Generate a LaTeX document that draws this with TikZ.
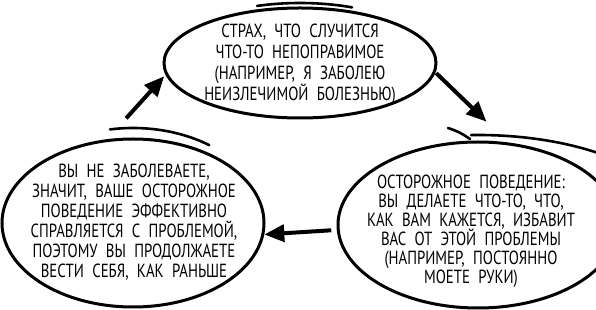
\documentclass[tikz,border=0pt]{standalone}
\usepackage{fontspec}
\newfontfamily\handfont[FakeStretch=0.78,WordSpace=2.1]{PT Sans}
\newcommand\handsize[1]{\fontsize{19}{#1}\selectfont\lineskiplimit=-20pt\relax}
\usetikzlibrary{shapes.geometric}
\usetikzlibrary{arrows.meta}

\tikzset{
  bubble/.style={ellipse, draw, line width=3pt, inner sep=0pt},
  bubbletext/.style={align=center, font=\handfont\handsize{#1}},
  bubbletext/.default=20,
  overshoot/.style={line width=2.6pt, line cap=round},
  cyclearrow/.style={line width=4pt, -{Triangle[length=20pt,width=17pt]}},
}

\begin{document}
\begin{tikzpicture}[x=1pt,y=1pt]
    \useasboundingbox (0,0) rectangle (596,310);
    \clip (0,0) rectangle (596,310);

    % Bubbles
    \node[bubble, minimum width=272pt, minimum height=110pt] (fear) at (300,247) {};
    \node[bubble, minimum width=262pt, minimum height=168pt] (relief) at (133,87) {};
    \node[bubble, minimum width=280pt, minimum height=166pt] (behave) at (478,85) {};

    % Hand-drawn overshoots
    \draw[overshoot] ([shift={(68:139pt and 60pt)}]fear.center) arc[start angle=68, end angle=108, x radius=139pt, y radius=60pt];
    \draw[overshoot] ([shift={(100:133pt and 95pt)}]relief.center) arc[start angle=100, end angle=55, x radius=133pt, y radius=95pt];
    \draw[overshoot] ([shift={(92:200pt and 90pt)}]behave.center) arc[start angle=92, end angle=30, x radius=200pt, y radius=90pt];
    \draw[overshoot] (448,182) to[bend left=8] (470,171);

    % Texts
    \node[bubbletext=21] (feartext) at (300,246) {СТРАХ, ЧТО СЛУЧИТСЯ\\ЧТО-ТО НЕПОПРАВИМОЕ\\(НАПРИМЕР, Я ЗАБОЛЕЮ\\НЕИЗЛЕЧИМОЙ БОЛЕЗНЬЮ)};
    \node[bubbletext=20] (relieftext) at (134,88) {ВЫ НЕ ЗАБОЛЕВАЕТЕ,\\ЗНАЧИТ, ВАШЕ ОСТОРОЖНОЕ\\ПОВЕДЕНИЕ ЭФФЕКТИВНО\\СПРАВЛЯЕТСЯ С ПРОБЛЕМОЙ,\\ПОЭТОМУ ВЫ ПРОДОЛЖАЕТЕ\\ВЕСТИ СЕБЯ, КАК РАНЬШЕ};
    \node[bubbletext=19] (behavetext) at (471,79) {ОСТОРОЖНОЕ ПОВЕДЕНИЕ:\\ВЫ ДЕЛАЕТЕ ЧТО-ТО, ЧТО,\\КАК ВАМ КАЖЕТСЯ, ИЗБАВИТ\\ВАС ОТ ЭТОЙ ПРОБЛЕМЫ\\(НАПРИМЕР, ПОСТОЯННО\\МОЕТЕ РУКИ)};

    % Cycle
    \draw[cyclearrow, shorten <=28pt, shorten >=2pt] (relief.107.2) -- (fear.185.9);
    \draw[cyclearrow, shorten <=1pt, shorten >=30pt] (fear.356.5) -- (behave.70.6);
    \draw[cyclearrow, shorten <=5.5pt] (behave.182.9) -- (relief.355.6);
\end{tikzpicture}
\end{document}
